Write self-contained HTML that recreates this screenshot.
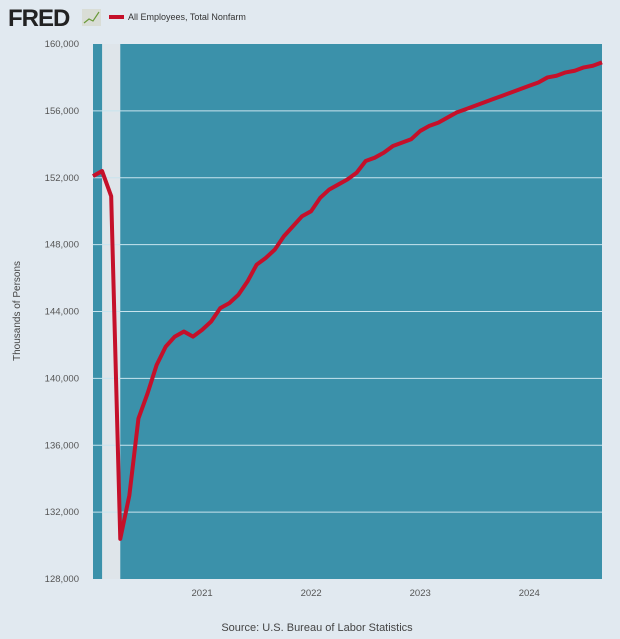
<!DOCTYPE html>
<html><head><meta charset="utf-8"><style>
body{margin:0;background:#e1e9f0;font-family:"Liberation Sans",sans-serif}
</style></head><body>
<svg width="620" height="634" viewBox="0 0 620 634" xmlns="http://www.w3.org/2000/svg">
<rect width="620" height="634" fill="#e1e9f0"/>
<text x="8" y="26" font-size="24" font-weight="bold" fill="#222" style="letter-spacing:-1px">FRED</text>
<rect x="82" y="9" width="19" height="17" fill="#d9ddd6"/>
<polyline points="84,23 89,19 93,21 99,12" fill="none" stroke="#6a9a3a" stroke-width="1.2"/>
<rect x="109" y="15" width="15" height="4" fill="#c5102a"/>
<text x="128" y="20" font-size="9" fill="#333">All Employees, Total Nonfarm</text>
<g id="plot"></g>
<text x="20" y="311" font-size="10" fill="#444" text-anchor="middle" transform="rotate(-90 20 311)">Thousands of Persons</text>
<text x="317" y="631" font-size="11" fill="#444" text-anchor="middle">Source: U.S. Bureau of Labor Statistics</text>
</svg>
<script>
const yTicks=[128000,132000,136000,140000,144000,148000,152000,156000,160000];
const xTickLabels=["2021","2022","2023","2024"];
const xTickMonths=[12,24,36,48];
const recessionStart=1, recessionEnd=3;
const values=[152100,152400,150900,130400,133000,137600,139100,140800,141900,142500,142800,142500,
142900,143400,144200,144500,145000,145800,146800,147200,147700,148500,149100,149700,
150000,150800,151300,151600,151900,152300,153000,153200,153500,153900,154100,154300,
154800,155100,155300,155600,155900,156100,156300,156500,156700,156900,157100,157300,
157500,157700,158000,158100,158300,158400,158600,158700,158900];
const NS="http://www.w3.org/2000/svg";
const L=93,R=602,T=44,B=579;
const x=m=>L+m*(R-L)/(values.length-1);
const y=v=>B-(v-128000)*(B-T)/32000;
const g=document.getElementById('plot');
function mk(t,a){const e=document.createElementNS(NS,t);for(const k in a)e.setAttribute(k,a[k]);g.appendChild(e);return e;}
let e=mk('rect',{x:L,y:T,width:R-L,height:B-T,fill:'#3b91aa'});


e=mk('rect',{x:x(recessionStart),y:T,width:x(recessionEnd)-x(recessionStart),height:B-T,fill:'#dfe5ea'});


yTicks.forEach(v=>{
 if(v>128000&&v<160000){const l=mk('line',{x1:L,x2:R,y1:y(v),y2:y(v),stroke:'#c8e4ee','stroke-width':1});
 
 }
 const t=mk('text',{x:79,y:y(v)+3,'font-size':9.5,fill:'#555','text-anchor':'end'});t.textContent=v.toLocaleString('en-US');
 
 
});
xTickLabels.forEach((s,i)=>{const t=mk('text',{x:x(xTickMonths[i]),y:596,'font-size':9.5,fill:'#555','text-anchor':'middle'});t.textContent=s;
 
 });
const p=mk('polyline',{points:values.map((v,i)=>x(i)+','+y(v)).join(' '),fill:'none',stroke:'#c5102a','stroke-width':4,'stroke-linejoin':'round'});


</script>
</body></html>
